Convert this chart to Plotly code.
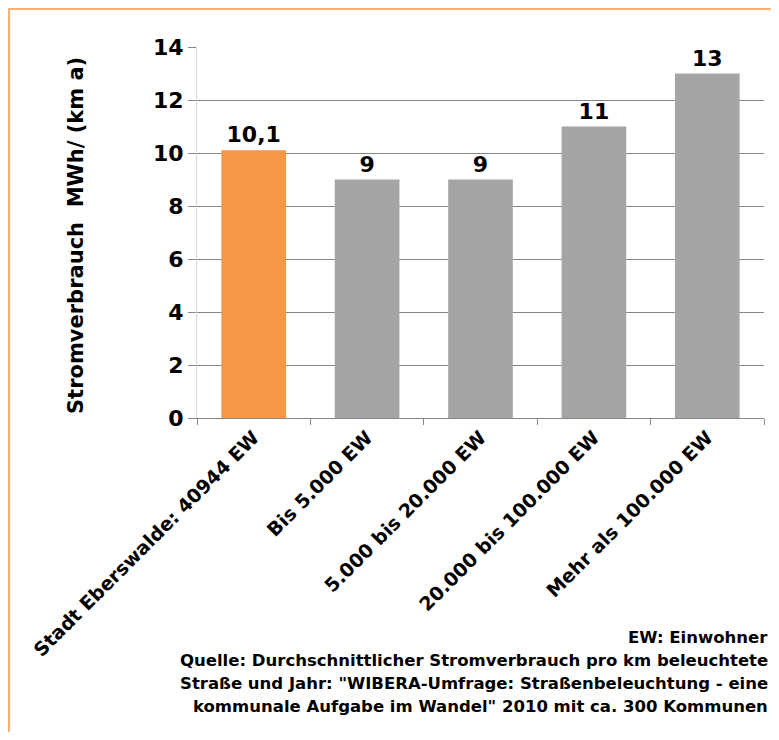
import plotly.graph_objects as go

categories = ["Stadt Eberswalde: 40944 EW", "Bis 5.000 EW", "5.000 bis 20.000 EW",
              "20.000 bis 100.000 EW", "Mehr als 100.000 EW"]
values = [10.1, 9, 9, 11, 13]
bar_colors = ["#F79646", "#A5A5A5", "#A5A5A5", "#A5A5A5", "#A5A5A5"]
y_ticks = [0, 2, 4, 6, 8, 10, 12, 14]
y_title = "Stromverbrauch  MWh/ (km a)"
source_lines = [
    "EW: Einwohner",
    "Quelle: Durchschnittlicher Stromverbrauch pro km beleuchtete",
    "Straße und Jahr: \"WIBERA-Umfrage: Straßenbeleuchtung - eine",
    "kommunale Aufgabe im Wandel\" 2010 mit ca. 300 Kommunen",
]

labels = [("%g" % v).replace(".", ",") for v in values]

# page body has an 8px margin; figure coordinates are page coordinates minus 8
OFF = 8
W, H = 763, 724
L = 197 - OFF
R = W - (764 - OFF)
T = 47 - OFF
B = H - (418 - OFF)
pw, ph = W - L - R, H - T - B

def px_x(px):
    return (px - OFF - L) / pw

def px_y(py):
    return (H - B - (py - OFF)) / ph

FONT_D = "DejaVu Sans"

fig = go.Figure()
fig.add_trace(go.Bar(
    x=categories, y=values, marker=dict(color=bar_colors, line=dict(width=0)),
    text=labels, textposition="outside", cliponaxis=False,
    textfont=dict(family=FONT_D, size=22, color="black", weight="bold"),
))

fig.update_layout(
    width=W, height=H,
    margin=dict(l=L, r=R, t=T, b=B),
    paper_bgcolor="white", plot_bgcolor="white",
    showlegend=False,
    bargap=0.43,
    xaxis=dict(
        tickangle=-45, tickson="boundaries", ticks="outside", ticklen=6,
        tickcolor="#868686", showline=True, linecolor="#868686", linewidth=1,
        tickfont=dict(family=FONT_D, size=19, color="black", weight="bold"),
        showgrid=False,
    ),
    yaxis=dict(
        range=[0, 14], tickvals=y_ticks, ticks="outside", ticklen=8,
        tickcolor="#868686", showline=True, linecolor="#D9D9D9", linewidth=1,
        gridcolor="#868686", gridwidth=1, zeroline=False,
        tickfont=dict(family=FONT_D, size=22, color="black", weight="bold"),
    ),
)

fig.add_annotation(
    text=y_title, xref="paper", yref="paper", x=px_x(76), y=px_y(236),
    textangle=-90, showarrow=False, xanchor="center", yanchor="middle",
    font=dict(family=FONT_D, size=21, color="black", weight="bold"),
)

for i, line in enumerate(source_lines):
    fig.add_annotation(
        text=line, xref="paper", yref="paper", x=px_x(770), y=px_y(637 + 23 * i),
        showarrow=False, xanchor="right", yanchor="middle",
        font=dict(family=FONT_D, size=16.5, color="black", weight="bold"),
    )

fig.add_shape(
    type="rect", xref="paper", yref="paper",
    x0=px_x(9), x1=px_x(820), y0=px_y(820), y1=px_y(9),
    line=dict(color="#F79646", width=1.5), fillcolor="rgba(0,0,0,0)", layer="above",
)

fig.write_html("out.html")
